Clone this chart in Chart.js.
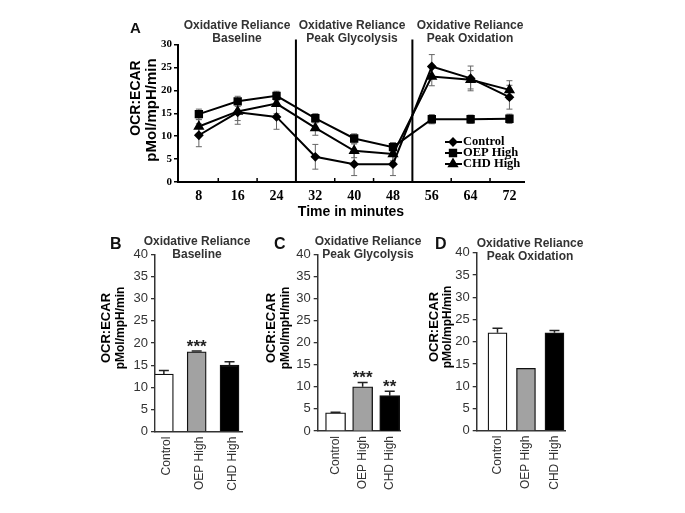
<!DOCTYPE html>
<html><head><meta charset="utf-8">
<script src="https://cdn.jsdelivr.net/npm/chart.js@4/dist/chart.umd.min.js"></script>
<style>
html,body{margin:0;padding:0;background:#fff;}
#wrap{position:relative;width:685px;height:513px;overflow:hidden;background:#fff;font-family:Arial,"Liberation Sans",sans-serif;}
canvas{position:absolute;}
.let{position:absolute;font-weight:bold;color:#111;white-space:nowrap;line-height:1;}
.hdr{position:absolute;font-weight:bold;color:#333;font-size:12px;line-height:12.5px;text-align:center;white-space:nowrap;transform:translateX(-50%);}
</style></head><body>
<div id="wrap">
<canvas id="cA" width="560" height="232" style="left:0;top:0"></canvas>
<canvas id="cB" width="170" height="280" style="left:90px;top:230px"></canvas>
<canvas id="cC" width="165" height="280" style="left:255px;top:230px"></canvas>
<canvas id="cD" width="170" height="280" style="left:420px;top:230px"></canvas>

<div class="let" style="left:130px;top:20px;font-size:15px">A</div>
<div class="hdr" style="left:237px;top:19px">Oxidative Reliance<br>Baseline</div>
<div class="hdr" style="left:352px;top:19px">Oxidative Reliance<br>Peak Glycolysis</div>
<div class="hdr" style="left:470px;top:19px">Oxidative Reliance<br>Peak Oxidation</div>

<div class="let" style="left:110px;top:236px;font-size:16px">B</div>
<div class="hdr" style="left:197px;top:235px">Oxidative Reliance<br>Baseline</div>
<div class="let" style="left:274px;top:236px;font-size:16px">C</div>
<div class="hdr" style="left:368px;top:235px">Oxidative Reliance<br>Peak Glycolysis</div>
<div class="let" style="left:435px;top:236px;font-size:16px">D</div>
<div class="hdr" style="left:530px;top:237px">Oxidative Reliance<br>Peak Oxidation</div>
</div>
<script>
// ---------- data ----------
const times = [8, 16, 24, 32, 40, 48, 56, 64, 72];
const seriesNames = ['Control', 'OEP High', 'CHD High'];
const controlLine = [10.2, 15.2, 14.2, 5.5, 3.9, 3.9, 25.2, 22.6, 18.5];
const controlLineErr = [2.5, 2.6, 2.7, 2.7, 2.5, 2.5, 2.6, 2.7, 2.6];
const oepLine = [14.8, 17.6, 18.8, 13.9, 9.5, 7.6, 13.7, 13.7, 13.8];
const oepLineErr = [1.1, 1.1, 1.0, 1.0, 1.0, 1.0, 1.0, 0.9, 1.0];
const chdLine = [12.1, 15.4, 17.1, 11.8, 6.8, 6.1, 23.0, 22.3, 20.1];
const chdLineErr = [1.5, 2.0, 2.2, 1.6, 1.5, 1.5, 2.0, 2.0, 2.0];
const phaseBreaks = [28, 52];
const midTicks = [12, 20, 36, 44, 60, 68];
const yTitleLines = ['OCR:ECAR', 'pMol/mpH/min'];

const barCategories = ['Control', 'OEP High', 'CHD High'];
const baselineVals = [13, 18, 15];
const baselineErr = [0.8, 0.2, 0.8];
const baselineSig = ['', '***', ''];
const glycolysisVals = [4.1, 10, 8];
const glycolysisErr = [0.15, 1.0, 1.0];
const glycolysisSig = ['', '***', '**'];
const oxidationVals = [22, 14, 22];
const oxidationErr = [1.0, 0, 0.5];
const oxidationSig = ['', '', ''];
const barColors = ['#ffffff', '#a2a2a2', '#000000'];

// ---------- plugins ----------
function drawErrors(chart, opts) {
  const {ctx} = chart; const ys = chart.scales.y;
  chart.data.datasets.forEach((ds, i) => {
    if (!ds.errors) return;
    const meta = chart.getDatasetMeta(i);
    meta.data.forEach((el, j) => {
      const e = ds.errors[j]; if (!e) return;
      const d = ds.data[j]; const v = (typeof d === 'object') ? d.y : d;
      const x = el.x;
      const top = ys.getPixelForValue(v + e);
      const bot = opts.both ? ys.getPixelForValue(v - e) : ys.getPixelForValue(v);
      ctx.save();
      ctx.strokeStyle = opts.color; ctx.lineWidth = opts.width;
      ctx.beginPath();
      ctx.moveTo(x, top); ctx.lineTo(x, bot);
      ctx.moveTo(x - opts.cap, top); ctx.lineTo(x + opts.cap, top);
      if (opts.both) { ctx.moveTo(x - opts.cap, bot); ctx.lineTo(x + opts.cap, bot); }
      ctx.stroke(); ctx.restore();
    });
  });
}
const errorBars = {
  id: 'errorBars',
  beforeDatasetsDraw(chart, a, opts) { if (opts.behind) drawErrors(chart, opts); },
  afterDatasetsDraw(chart, a, opts) { if (!opts.behind) drawErrors(chart, opts); }
};
const sigStars = {
  id: 'sigStars',
  afterDatasetsDraw(chart, a, opts) {
    const ds = chart.data.datasets[0]; if (!ds.sig) return;
    const {ctx} = chart; const ys = chart.scales.y; const meta = chart.getDatasetMeta(0);
    ctx.save();
    ctx.fillStyle = '#222'; ctx.font = 'bold 17px Arial, "Liberation Sans"';
    ctx.textAlign = 'center'; ctx.textBaseline = 'middle';
    meta.data.forEach((el, j) => {
      const s = ds.sig[j]; if (!s) return;
      const v = ds.data[j].y + (ds.errors[j] || 0);
      ctx.fillText(s, el.x, ys.getPixelForValue(v) - 4);
    });
    ctx.restore();
  }
};
const yTitle = {
  id: 'yTitle',
  afterDraw(chart, a, o) {
    const {ctx} = chart;
    yTitleLines.forEach((t, i) => {
      ctx.save();
      ctx.translate(o.x[i], o.y[i]);
      ctx.rotate(-Math.PI / 2);
      ctx.font = 'bold ' + o.size[i] + 'px Arial, "Liberation Sans", sans-serif';
      ctx.fillStyle = '#000'; ctx.textAlign = 'center'; ctx.textBaseline = 'middle';
      ctx.fillText(t, 0, 0);
      ctx.restore();
    });
  }
};
const phasePlugin = {
  id: 'phases',
  afterDraw(chart) {
    const {ctx, chartArea} = chart; const xs = chart.scales.x;
    ctx.save(); ctx.strokeStyle = '#000'; ctx.lineWidth = 2;
    ctx.beginPath();
    phaseBreaks.forEach(b => {
      const x = xs.getPixelForValue(b);
      ctx.moveTo(x, chartArea.top - 5); ctx.lineTo(x, chartArea.bottom);
    });
    ctx.stroke();
    ctx.lineWidth = 1.5; ctx.beginPath();
    midTicks.forEach(t => {
      const x = xs.getPixelForValue(t);
      ctx.moveTo(x, chartArea.bottom); ctx.lineTo(x, chartArea.bottom - 4);
    });
    ctx.stroke();
    // legend
    const lx = chartArea.right - 79, ly = chartArea.bottom - 40;
    const styles = ['rectRot', 'rect', 'triangle'];
    const radii = [3.5, 4.5, 4.5];
    ctx.font = 'bold 12.5px "Liberation Serif", "Times New Roman", serif';
    ctx.textBaseline = 'middle';
    seriesNames.forEach((n, i) => {
      const y = ly + i * 11;
      ctx.strokeStyle = '#000'; ctx.fillStyle = '#000';
      ctx.lineWidth = 2; ctx.beginPath(); ctx.moveTo(lx, y); ctx.lineTo(lx + 17, y); ctx.stroke();
      Chart.helpers.drawPoint(ctx, {pointStyle: styles[i], radius: radii[i], borderWidth: 1}, lx + 8, y);
      ctx.fillStyle = '#000';
      ctx.fillText(n, lx + 18, y);
    });
    ctx.restore();
  }
};

Chart.defaults.animation = false;
Chart.defaults.events = [];
Chart.defaults.plugins.legend.display = false;
Chart.defaults.plugins.tooltip.enabled = false;

// ---------- panel A ----------
const serif = '"Liberation Serif", "Times New Roman", serif';
const lineSets = [
  {label: seriesNames[0], values: controlLine, errs: controlLineErr, style: 'rectRot', r: 3.5},
  {label: seriesNames[1], values: oepLine, errs: oepLineErr, style: 'rect', r: 4.5},
  {label: seriesNames[2], values: chdLine, errs: chdLineErr, style: 'triangle', r: 4.5}
];
new Chart(document.getElementById('cA'), {
  type: 'line',
  data: {
    datasets: lineSets.map(s => ({
      label: s.label,
      data: times.map((t, i) => ({x: t, y: s.values[i]})),
      errors: s.errs,
      borderColor: '#000', backgroundColor: '#000', borderWidth: 2,
      pointStyle: s.style, pointRadius: s.r, pointBackgroundColor: '#000', pointBorderColor: '#000',
      tension: 0
    }))
  },
  options: {
    responsive: false,
    layout: {padding: {left: 128, right: 36, top: 44.5, bottom: 0}},
    plugins: {
      errorBars: {behind: true, both: true, color: '#666', width: 1, cap: 3},
      yTitle: {x: [136.5, 152], y: [98, 110], size: [14, 15]}
    },
    scales: {
      x: {
        type: 'linear', min: 3.7, max: 75,
        afterBuildTicks: s => { s.ticks = times.map(v => ({value: v})); },
        afterFit: s => { s.height = 50; },
        ticks: {color: '#000', font: {family: serif, size: 14, weight: 'bold'}, padding: -2, autoSkip: false},
        grid: {display: false},
        border: {display: true, color: '#000', width: 2},
        title: {display: true, text: 'Time in minutes', color: '#000', font: {family: 'Arial', size: 14, weight: 'bold'}, padding: {top: 0, bottom: 11}}
      },
      y: {
        min: 0, max: 30,
        afterFit: s => { s.width = 50; },
        ticks: {stepSize: 5, color: '#000', font: {family: serif, size: 11, weight: 'bold'}, padding: 2},
        grid: {drawOnChartArea: false, drawTicks: true, tickLength: 4, color: '#000', lineWidth: 1.5},
        border: {display: true, color: '#000', width: 2}
      }
    }
  },
  plugins: [errorBars, phasePlugin, yTitle]
});

// ---------- panels B, C, D ----------
function barPanel(id, vals, errs, sig, pad, yWidth, xMin, xMax, thick, labelShift, titlePos) {
  new Chart(document.getElementById(id), {
    type: 'bar',
    data: {
      datasets: [{
        data: vals.map((v, i) => ({x: i, y: v})),
        errors: errs, sig: sig,
        backgroundColor: barColors, borderColor: '#111', borderWidth: 1.3,
        barThickness: thick
      }]
    },
    options: {
      responsive: false,
      layout: {padding: pad},
      plugins: {
        errorBars: {behind: false, both: false, color: '#222', width: 1.5, cap: 5},
        yTitle: titlePos
      },
      scales: {
        x: {
          type: 'linear', min: xMin, max: xMax, offset: false,
          afterBuildTicks: s => { s.ticks = barCategories.map((c, i) => ({value: i})); },
          afterFit: s => { s.height = 70; },
          ticks: {callback: v => barCategories[v], minRotation: 90, maxRotation: 90, autoSkip: false,
                  color: '#333', font: {family: 'Arial', size: 12}, padding: -3, labelOffset: labelShift},
          grid: {display: false},
          border: {display: true, color: '#333', width: 1.5}
        },
        y: {
          min: 0, max: 40,
          afterFit: s => { s.width = yWidth; },
          ticks: {stepSize: 5, color: '#333', font: {family: 'Arial', size: 13}, padding: 3},
          grid: {drawOnChartArea: false, drawTicks: true, tickLength: 4, color: '#333', lineWidth: 1.3},
          border: {display: true, color: '#333', width: 1.5}
        }
      }
    },
    plugins: [errorBars, sigStars, yTitle]
  });
}
barPanel('cB', baselineVals, baselineErr, baselineSig, {left: 9.4, right: 18, top: 24.3, bottom: 8.3}, 55.6, -0.27, 2.38, 19, 3,
  {x: [16.5, 31], y: [98, 98], size: [13, 12]});
barPanel('cC', glycolysisVals, glycolysisErr, glycolysisSig, {left: 8.9, right: 20, top: 24.3, bottom: 9}, 53.8, -0.66, 2.38, 20, 0,
  {x: [16, 31], y: [98, 98], size: [13, 12]});
barPanel('cD', oxidationVals, oxidationErr, oxidationSig, {left: 7.4, right: 25, top: 22.7, bottom: 9.3}, 49.3, -0.73, 2.37, 19, 0,
  {x: [14.5, 28], y: [97, 97], size: [13, 12]});
</script>
</body></html>
